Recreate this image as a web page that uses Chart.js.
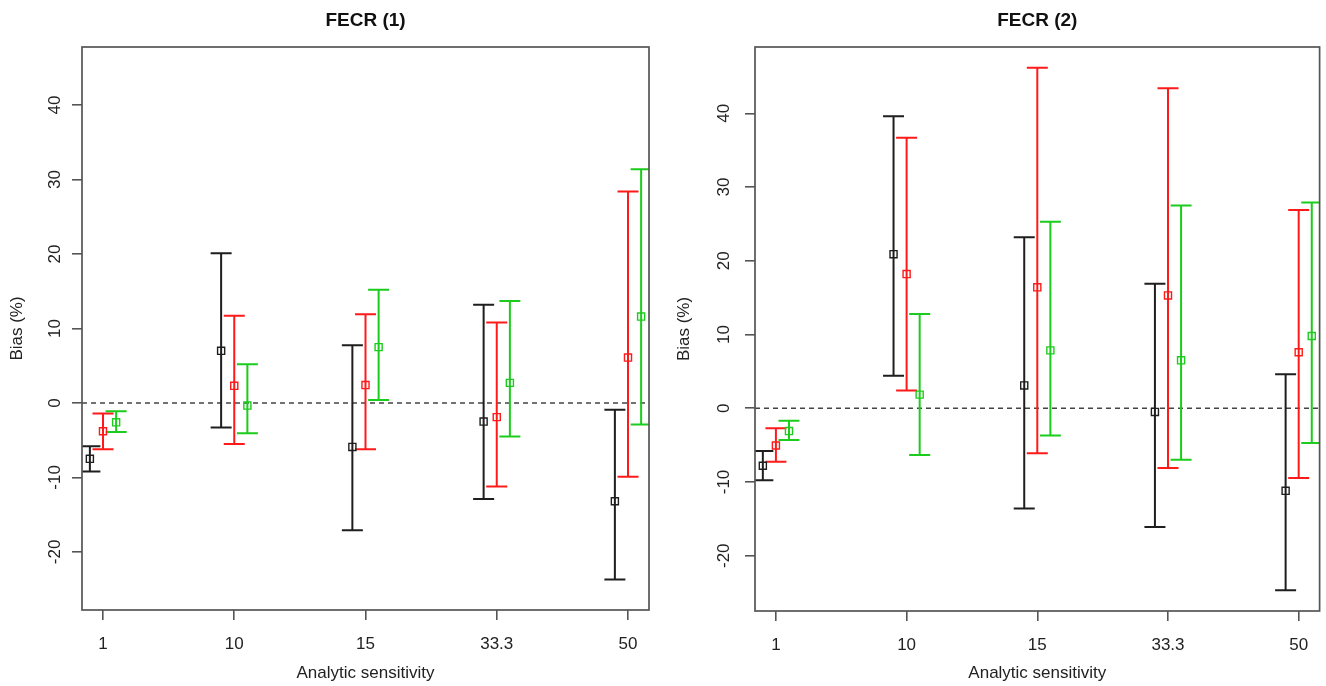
<!DOCTYPE html>
<html>
<head>
<meta charset="utf-8">
<script src="https://cdn.jsdelivr.net/npm/chart.js@4.4.1/dist/chart.umd.min.js"></script>
<style>
  body { margin: 0; background: #fff; }
  #wrap { display: flex; width: 1326px; height: 686px; }
  canvas { display: block; }
</style>
</head>
<body>
<div id="wrap">
  <canvas id="fecr1" width="663" height="686"></canvas>
  <canvas id="fecr2" width="663" height="686"></canvas>
</div>
<script>
var cats = ['1', '10', '15', '33.3', '50'];
var yTicks = [-20, -10, 0, 10, 20, 30, 40];
var offsets = [-0.1, 0, 0.1];
var colors = ['#1e1e1e', '#ff1a1a', '#1ccc1c'];

// FECR (1)
var blk1 = [-7.5, 7.0, -5.9, -2.5, -13.2];
var blk1Lo = [-9.2, -3.3, -17.1, -12.9, -23.7];
var blk1Hi = [-5.8, 20.1, 7.75, 13.2, -0.9];
var red1 = [-3.8, 2.3, 2.4, -1.9, 6.1];
var red1Lo = [-6.2, -5.5, -6.2, -11.2, -9.9];
var red1Hi = [-1.4, 11.7, 11.9, 10.8, 28.4];
var grn1 = [-2.6, -0.35, 7.5, 2.7, 11.6];
var grn1Lo = [-3.9, -4.05, 0.4, -4.5, -2.9];
var grn1Hi = [-1.1, 5.2, 15.2, 13.7, 31.4];

// FECR (2)
var blk2 = [-7.8, 20.9, 3.1, -0.5, -11.2];
var blk2Lo = [-9.75, 4.4, -13.6, -16.1, -24.7];
var blk2Hi = [-5.8, 39.6, 23.2, 16.9, 4.6];
var red2 = [-5.05, 18.2, 16.4, 15.3, 7.6];
var red2Lo = [-7.25, 2.4, -6.1, -8.1, -9.45];
var red2Hi = [-2.7, 36.7, 46.2, 43.4, 26.9];
var grn2 = [-3.1, 1.85, 7.85, 6.5, 9.8];
var grn2Lo = [-4.3, -6.35, -3.7, -7.0, -4.7];
var grn2Hi = [-1.7, 12.8, 25.3, 27.5, 27.9];

function series(vals, lo, hi, k) {
  return {
    data: vals.map(function (v, j) { return { x: j + 1 + offsets[k], y: v }; }),
    lo: lo,
    hi: hi,
    showLine: false,
    pointStyle: 'rect',
    pointRadius: 5,
    pointHoverRadius: 5,
    borderWidth: 1.4,
    borderColor: colors[k],
    backgroundColor: 'rgba(0,0,0,0)'
  };
}

// error bars, zero line and box, R style
var rStyle = {
  id: 'rStyle',
  beforeDatasetsDraw: function (chart) {
    var ctx = chart.ctx, a = chart.chartArea;
    var xs = chart.scales.x, ys = chart.scales.y;
    ctx.save();
    ctx.beginPath();
    ctx.rect(a.left, a.top, a.right - a.left, a.bottom - a.top);
    ctx.clip();
    var y0 = ys.getPixelForValue(0);
    ctx.setLineDash([5, 4]);
    ctx.strokeStyle = '#444';
    ctx.lineWidth = 1.4;
    ctx.beginPath();
    ctx.moveTo(a.left, y0);
    ctx.lineTo(a.right, y0);
    ctx.stroke();
    ctx.setLineDash([]);
    chart.data.datasets.forEach(function (ds) {
      ctx.strokeStyle = ds.borderColor;
      ctx.lineWidth = 2;
      ds.data.forEach(function (p, j) {
        var x = xs.getPixelForValue(p.x);
        var yl = ys.getPixelForValue(ds.lo[j]);
        var yh = ys.getPixelForValue(ds.hi[j]);
        ctx.beginPath();
        ctx.moveTo(x, yl); ctx.lineTo(x, yh);
        ctx.moveTo(x - 10.5, yl); ctx.lineTo(x + 10.5, yl);
        ctx.moveTo(x - 10.5, yh); ctx.lineTo(x + 10.5, yh);
        ctx.stroke();
      });
    });
    ctx.restore();
  },
  afterDraw: function (chart) {
    var ctx = chart.ctx, a = chart.chartArea;
    ctx.save();
    ctx.strokeStyle = '#555';
    ctx.lineWidth = 1.7;
    ctx.strokeRect(a.left, a.top, a.right - a.left, a.bottom - a.top);
    ctx.restore();
  }
};

function makePanel(id, title, datasets, yMin, yMax, yWidth, xHeight, padRight, yTitlePad, yTickPad) {
  var tickFont = { family: 'Liberation Sans, Arial, sans-serif', size: 17 };
  return new Chart(document.getElementById(id), {
    type: 'scatter',
    data: { datasets: datasets },
    plugins: [rStyle],
    options: {
      responsive: false,
      animation: false,
      layout: { padding: { left: 0, right: padRight, top: 0, bottom: 0 } },
      scales: {
        x: {
          type: 'linear',
          min: 0.84,
          max: 5.16,
          afterBuildTicks: function (s) { s.ticks = cats.map(function (c, i) { return { value: i + 1 }; }); },
          afterFit: function (s) { s.height = xHeight; },
          ticks: {
            autoSkip: false,
            maxRotation: 0,
            padding: 14,
            color: '#222',
            font: tickFont,
            callback: function (v) { return cats[v - 1]; }
          },
          grid: { drawOnChartArea: false, drawTicks: true, tickLength: 10, tickColor: '#555', lineWidth: 1.6 },
          border: { display: false },
          title: {
            display: true,
            text: 'Analytic sensitivity',
            color: '#222',
            font: { family: 'Liberation Sans, Arial, sans-serif', size: 17, lineHeight: 1.2 },
            padding: { top: 0, bottom: 2 }
          }
        },
        y: {
          min: yMin,
          max: yMax,
          afterBuildTicks: function (s) { s.ticks = yTicks.map(function (v) { return { value: v }; }); },
          afterFit: function (s) { s.width = yWidth; },
          ticks: {
            autoSkip: false,
            minRotation: 90,
            maxRotation: 90,
            crossAlign: 'center',
            padding: yTickPad,
            color: '#222',
            font: tickFont
          },
          grid: { drawOnChartArea: false, drawTicks: true, tickLength: 10, tickColor: '#555', lineWidth: 1.6 },
          border: { display: false },
          title: {
            display: true,
            text: 'Bias (%)',
            color: '#222',
            font: { family: 'Liberation Sans, Arial, sans-serif', size: 17, lineHeight: 1.2 },
            padding: { top: yTitlePad, bottom: 0 }
          }
        }
      },
      plugins: {
        legend: { display: false },
        tooltip: { enabled: false },
        title: {
          display: true,
          text: title,
          fullSize: false,
          color: '#111',
          font: { family: 'Liberation Sans, Arial, sans-serif', size: 19, weight: 'bold', lineHeight: 1.2 },
          padding: { top: 9.2, bottom: 15 }
        }
      }
    }
  });
}

makePanel('fecr1', 'FECR (1)', [
  series(blk1, blk1Lo, blk1Hi, 0),
  series(red1, red1Lo, red1Hi, 1),
  series(grn1, grn1Lo, grn1Hi, 2)
], -27.8, 47.8, 82, 76, 14, 7, 4.5);

makePanel('fecr2', 'FECR (2)', [
  series(blk2, blk2Lo, blk2Hi, 0),
  series(red2, red2Lo, red2Hi, 1),
  series(grn2, grn2Lo, grn2Hi, 2)
], -27.5, 49.0, 92, 75, 3, 11, 8);
</script>
</body>
</html>
